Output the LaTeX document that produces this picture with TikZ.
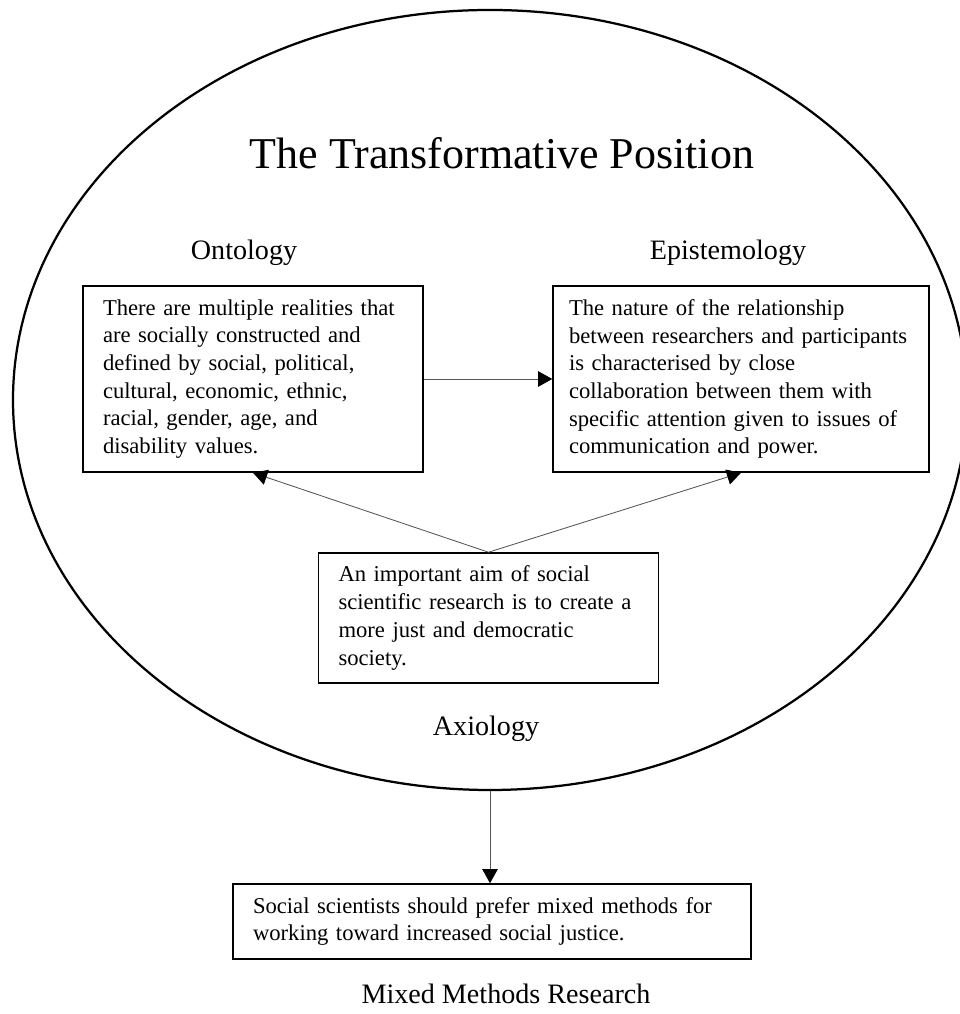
\documentclass[tikz,border=0pt]{standalone}
\usepackage{fontspec}
\setmainfont{Liberation Serif}
\usepackage{tikz}
\usetikzlibrary{shapes.geometric,arrows.meta,positioning,calc}
\definecolor{linkgray}{HTML}{555555}
\newcommand{\claimfont}{\fontsize{16.1pt}{19.7pt}\selectfont\hyphenpenalty=10000\relax}
\tikzset{
  claim/.style={draw,line width=1.1pt,align=left,inner xsep=0.5cm,inner ysep=0pt,
    font=\claimfont},
  heading/.style={anchor=base,font=\fontsize{20pt}{24pt}\selectfont},
  link/.style={draw=linkgray,line width=0.6pt,
    -{Triangle[length=10pt,width=11pt,color=black]}}
}

\begin{document}
\begin{tikzpicture}
  \useasboundingbox (0,0) rectangle (24,25.35);
  % outer frame
  \node[draw,ellipse,line width=1.6pt,minimum width=23.85cm,
    minimum height=19.5cm,inner sep=0pt] (frame) at (12.25,15.35) {};
  \node[anchor=base,font=\fontsize{31.3pt}{36pt}\selectfont] (title)
    at (12.55,21.125) {The Transformative Position};

  \node[heading] (ontolabel) at (6.1,18.85) {Ontology};
  \node[heading] (epilabel) at (18.2,18.85) {Epistemology};
  \node[claim,text width=7.5cm,minimum height=4.65cm] (onto) at (6.325,15.875)
    {There are multiple realities that\\ are socially constructed and\\
     defined by social, political,\\ cultural, economic, ethnic,\\
     racial, gender, age, and\\ disability values.};
  \node[claim,text width=8.6cm,inner xsep=0.4cm,minimum height=4.65cm] (episto)
    at (18.525,15.875)
    {The nature of the relationship\\ between researchers and participants\\
     is characterised by close\\ collaboration between them with\\
     specific attention given to issues of\\ communication and power.};
  \node[claim,text width=7.5cm,minimum height=3.25cm] (axio) at (12.2125,9.9)
    {An important aim of social\\ scientific research is to create a\\
     more just and democratic\\ society.};
  \node[heading] (axlabel) at (12.15,6.95) {Axiology};

  % outside the frame
  \node[claim,text width=11.95cm,minimum height=1.875cm] (mmr) at (12.3,2.3125)
    {Social scientists should prefer mixed methods for\\
     working toward increased social justice.};
  \node[heading] (mmrlabel) at (12.65,0.25) {Mixed Methods Research};

  \draw[link] (onto) -- (episto);
  \draw[link] (axio.north) -- (onto.south);
  \draw[link] (axio.north) -- (episto.south);
  \draw[link] (frame.south) -- (frame.south |- mmr.north);
\end{tikzpicture}
\end{document}
